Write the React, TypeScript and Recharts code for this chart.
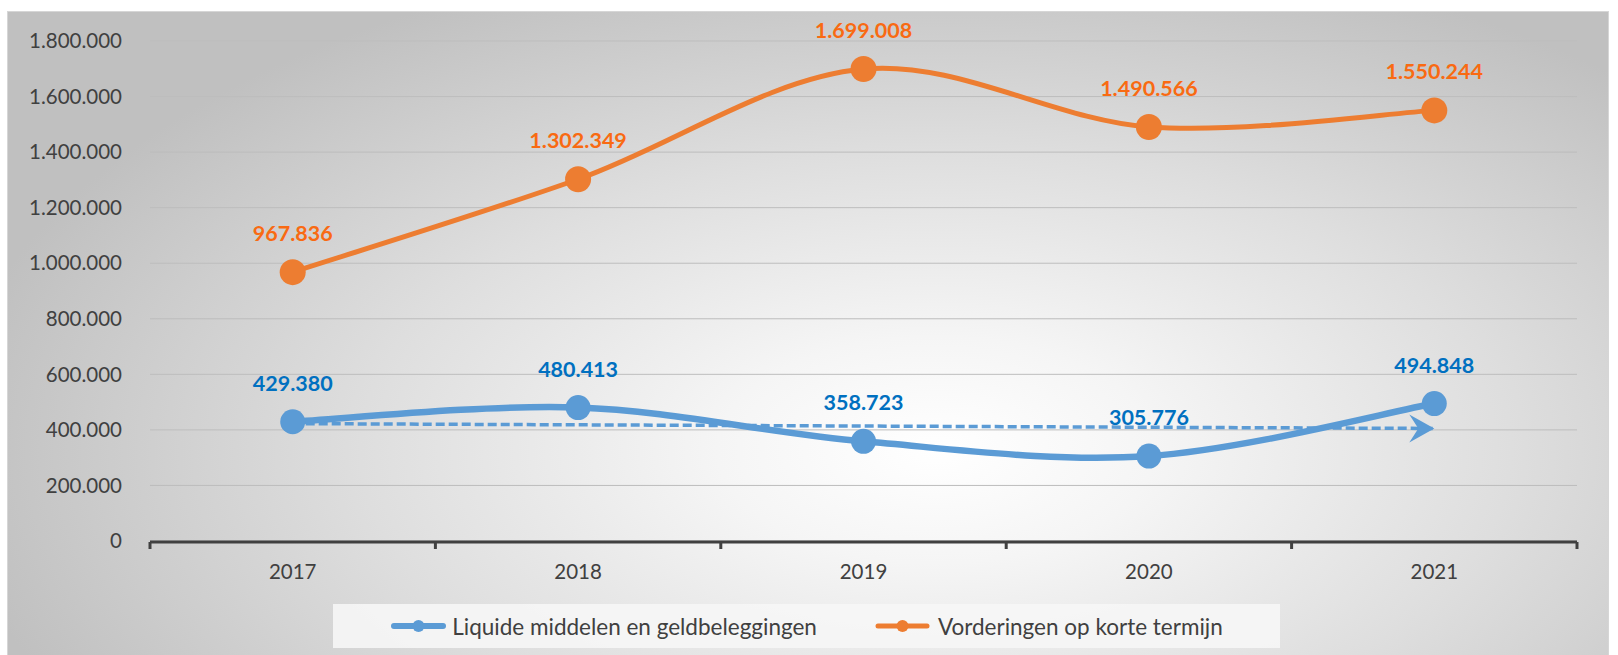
import React from 'react';
import { LineChart, Line, XAxis, YAxis, CartesianGrid, LabelList, Legend } from 'recharts';

const years = ['2017', '2018', '2019', '2020', '2021'];
const liquide = [429380, 480413, 358723, 305776, 494848];
const vorderingen = [967836, 1302349, 1699008, 1490566, 1550244];
const trendLiquide = [422600, null, null, null, 405100];
const yTicks = [0, 200000, 400000, 600000, 800000, 1000000, 1200000, 1400000, 1600000, 1800000];
// category boundaries (between year slots), in year-index units
const boundaryTicks = [-0.5, 0.5, 1.5, 2.5, 3.5, 4.5];

const BLUE = '#5B9BD5';
const ORANGE = '#ED7D31';
const BLUE_LABEL = '#0070C0';
const ORANGE_LABEL = '#F96A12';
const TEXT = '#404040';
const FONT = 'Lato, "Open Sans", sans-serif';

const data = years.map((year, i) => ({
  year,
  liquide: liquide[i],
  vorderingen: vorderingen[i],
  trend: trendLiquide[i],
}));

const fmt = (v: any) => String(v).replace(/\B(?=(\d{3})+(?!\d))/g, '.');
const yearIndex = (d: any) => years.indexOf(d.year);

// Excel-like smoothed line (Catmull-Rom style bezier)
function excelCurve(context: any) {
  let pts: number[][] = [];
  return {
    areaStart() {},
    areaEnd() {},
    lineStart() {
      pts = [];
    },
    point(x: number, y: number) {
      pts.push([+x, +y]);
    },
    lineEnd() {
      const n = pts.length;
      if (!n) return;
      context.moveTo(pts[0][0], pts[0][1]);
      for (let i = 0; i < n - 1; i++) {
        const p0 = pts[Math.max(0, i - 1)];
        const p1 = pts[i];
        const p2 = pts[i + 1];
        const p3 = pts[Math.min(n - 1, i + 2)];
        const c1x = p1[0] + (p2[0] - p0[0]) / 6;
        const c1y = p1[1] + (p2[1] - p0[1]) / 6;
        const c2x = p2[0] - (p3[0] - p1[0]) / 6;
        const c2y = p2[1] - (p3[1] - p1[1]) / 6;
        context.bezierCurveTo(c1x, c1y, c2x, c2y, p2[0], p2[1]);
      }
    },
  };
}

const makeLabel = (color: string) => (props: any) => {
  const { x, y, value } = props;
  if (x == null || y == null) return null;
  return (
    <text
      x={x}
      y={y - 39}
      textAnchor="middle"
      dominantBaseline="central"
      fill={color}
      fontSize={21.5}
      fontWeight={700}
      fontFamily={FONT}
    >
      {fmt(value)}
    </text>
  );
};

const arrowDot = (props: any) => {
  const { cx, cy, index } = props;
  if (typeof cx !== 'number' || typeof cy !== 'number' || index !== trendLiquide.length - 1) {
    return <g key={`tr-${index}`} />;
  }
  return (
    <polygon
      key={`tr-${index}`}
      points={`${cx},${cy} ${cx - 25},${cy - 14} ${cx - 16},${cy} ${cx - 25},${cy + 14}`}
      fill={BLUE}
    />
  );
};

const emptyTick = (props: any) => <g key={`bt-${props.index}`} />;

const LegendIcon = ({ color, w }: { color: string; w: number }) => (
  <svg width={57} height={20} style={{ display: 'block' }}>
    <line x1={4} y1={10} x2={53} y2={10} stroke={color} strokeWidth={w} strokeLinecap="round" />
    <circle cx={28.5} cy={10} r={6} fill={color} />
  </svg>
);

const renderLegend = () => (
  <div
    style={{
      width: 947,
      height: 44,
      background: 'rgba(246,246,246,0.9)',
      display: 'flex',
      alignItems: 'center',
      justifyContent: 'center',
      fontFamily: FONT,
      fontSize: 22.5,
      color: TEXT,
      whiteSpace: 'nowrap',
    }}
  >
    <LegendIcon color={BLUE} w={6} />
    <span style={{ marginLeft: 5 }}>Liquide middelen en geldbeleggingen</span>
    <span style={{ width: 57 }} />
    <LegendIcon color={ORANGE} w={5} />
    <span style={{ marginLeft: 7 }}>Vorderingen op korte termijn</span>
  </div>
);

export default function App() {
  return (
    <div style={{ position: 'absolute', left: 0, top: 0, width: 1618, height: 655, overflow: 'hidden', background: '#ffffff' }}>
      <div
        style={{
          position: 'absolute',
          left: 7,
          top: 11,
          width: 1600,
          height: 644,
          borderTop: '1px solid #d6d6d6',
          borderLeft: '1px solid #d6d6d6',
          borderRight: '1px solid #d6d6d6',
          background:
            'radial-gradient(ellipse 62% 80% at 58% 68%, #ffffff 0%, #f5f5f5 22%, #dedede 58%, #c0c0c0 100%)',
        }}
      />
      <div style={{ position: 'absolute', left: 0, top: 0 }}>
        <LineChart width={1618} height={655} data={data} margin={{ top: 41, right: 41, bottom: 112, left: 0 }}>
          <CartesianGrid xAxisId="cat" vertical={false} stroke="#bdbdbd" strokeWidth={1} />
          <YAxis
            domain={[0, 1800000]}
            ticks={yTicks}
            interval={0}
            width={150}
            axisLine={false}
            tickLine={false}
            tickSize={0}
            tickMargin={28}
            tickFormatter={fmt}
            tick={{ fontSize: 20.5, fill: TEXT, fontFamily: FONT }}
          />
          <XAxis
            xAxisId="grid"
            type="number"
            dataKey={yearIndex}
            domain={['dataMin - 0.5', 'dataMax + 0.5']}
            ticks={boundaryTicks}
            interval={0}
            height={1}
            tick={emptyTick}
            tickSize={7}
            axisLine={{ stroke: '#404040', strokeWidth: 3 }}
            tickLine={{ stroke: '#404040', strokeWidth: 3 }}
          />
          <XAxis
            xAxisId="cat"
            dataKey="year"
            scale="band"
            height={1}
            axisLine={false}
            tickLine={false}
            tickSize={0}
            tickMargin={23}
            interval={0}
            tick={{ fontSize: 20.5, fill: TEXT, fontFamily: FONT }}
          />
          <Line
            xAxisId="cat"
            dataKey="trend"
            type="linear"
            connectNulls
            stroke={BLUE}
            strokeWidth={3.5}
            strokeDasharray="9 4"
            dot={arrowDot}
            activeDot={false}
            isAnimationActive={false}
            legendType="none"
          />
          <Line
            xAxisId="cat"
            dataKey="liquide"
            name="Liquide middelen en geldbeleggingen"
            type={excelCurve as any}
            stroke={BLUE}
            strokeWidth={6.5}
            dot={{ r: 12.5, fill: BLUE, stroke: BLUE, strokeWidth: 0 }}
            activeDot={false}
            isAnimationActive={false}
          >
            <LabelList dataKey="liquide" content={makeLabel(BLUE_LABEL)} />
          </Line>
          <Line
            xAxisId="cat"
            dataKey="vorderingen"
            name="Vorderingen op korte termijn"
            type={excelCurve as any}
            stroke={ORANGE}
            strokeWidth={5}
            dot={{ r: 13, fill: ORANGE, stroke: ORANGE, strokeWidth: 0 }}
            activeDot={false}
            isAnimationActive={false}
          >
            <LabelList dataKey="vorderingen" content={makeLabel(ORANGE_LABEL)} />
          </Line>
          <Legend
            layout="vertical"
            align="center"
            verticalAlign="middle"
            wrapperStyle={{ left: 333, top: 604, width: 947, height: 44 }}
            content={renderLegend}
          />
        </LineChart>
      </div>
    </div>
  );
}
